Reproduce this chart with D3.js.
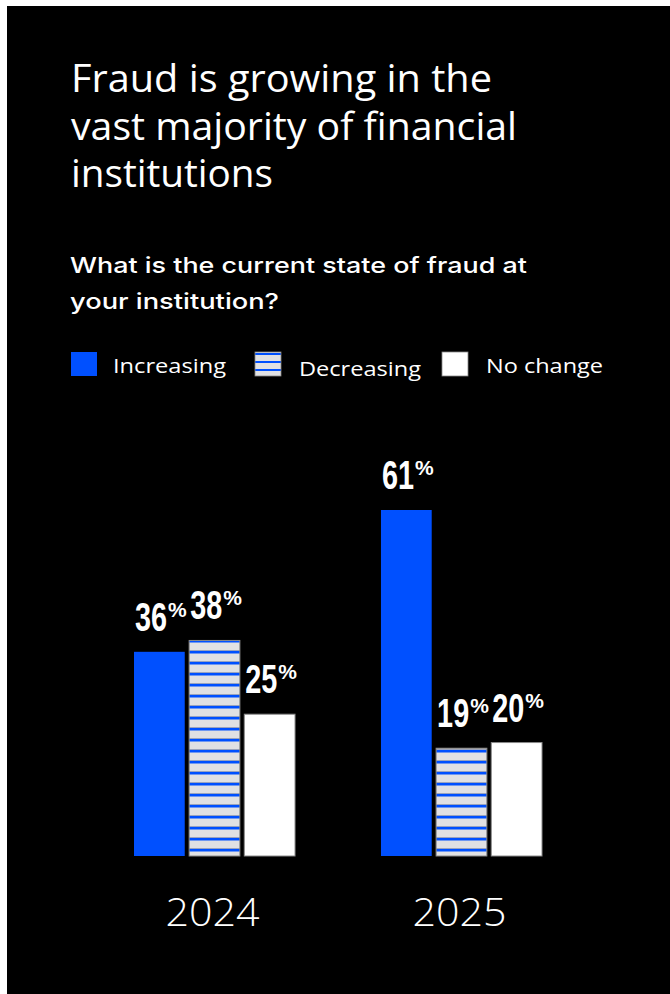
<!DOCTYPE html>
<html>
<head>
<meta charset="utf-8">
<script src="https://cdn.jsdelivr.net/npm/d3@7/dist/d3.min.js"></script>
<style>
  html, body { margin: 0; padding: 0; background: #fff; }
  svg { display: block; }
</style>
</head>
<body>
<svg id="chart" width="670" height="994"></svg>
<script>
// ---- data ----
const years = ["2024", "2025"];
const seriesNames = ["Increasing", "Decreasing", "No change"];
const increasing = [36, 61];
const decreasing = [38, 19];
const noChange = [25, 20];
const titleLines = ["Fraud is growing in the", "vast majority of financial", "institutions"];
const subtitleLines = ["What is the current state of fraud at", "your institution?"];

const seriesValues = [increasing, decreasing, noChange];
const rows = years.map((y, i) => ({
  year: y,
  values: seriesNames.map((s, j) => ({ key: s, value: seriesValues[j][i] }))
}));

const BLUE = "#0050ff";
const SANS = "'Open Sans', 'Noto Sans', sans-serif";
const svg = d3.select("#chart");

// panel background
svg.append("rect").attr("x", 7).attr("y", 6).attr("width", 663).attr("height", 988).attr("fill", "#000");

// striped fill for "Decreasing"
const defs = svg.append("defs");
const pat = defs.append("pattern").attr("id", "stripes").attr("patternUnits", "userSpaceOnUse")
  .attr("width", 8).attr("height", 11).attr("y", 638);
pat.append("rect").attr("width", 8).attr("height", 11).attr("fill", "#e1e1e3");
pat.append("rect").attr("y", 1).attr("width", 8).attr("height", 1).attr("fill", "#9aa3bd");
pat.append("rect").attr("y", 2).attr("width", 8).attr("height", 2.5).attr("fill", BLUE);
const patL = defs.append("pattern").attr("id", "stripesLegend").attr("patternUnits", "userSpaceOnUse")
  .attr("width", 8).attr("height", 8).attr("y", 353);
patL.append("rect").attr("width", 8).attr("height", 8).attr("fill", "#e1e1e3");
patL.append("rect").attr("y", 0).attr("width", 8).attr("height", 2).attr("fill", BLUE);

const fillFor = k => k === "Increasing" ? BLUE : k === "Decreasing" ? "url(#stripes)" : "#fff";

// stretch or squeeze a text element to a given width
function fit(sel, w) {
  sel.attr("textLength", w).attr("lengthAdjust", "spacingAndGlyphs");
}

// ---- title ----
const titleW = [421, 446, 202];
titleLines.forEach((t, i) => {
  svg.append("text").attr("x", 71).attr("y", 92 + i * 47.5)
    .attr("font-family", SANS).attr("font-size", 38).attr("font-weight", 400)
    .attr("fill", "#fff").text(t).call(fit, titleW[i]);
});

// ---- subtitle ----
const subW = [457, 209];
subtitleLines.forEach((t, i) => {
  svg.append("text").attr("x", 70).attr("y", 273 + i * 36)
    .attr("font-family", "Inter, 'Open Sans', sans-serif").attr("font-size", 22).attr("font-weight", 500)
    .attr("fill", "#fff").text(t).call(fit, subW[i]);
});

// ---- legend ----
const legendItems = [
  { key: "Increasing", sx: 71, tx: 113, tw: 113, fill: BLUE },
  { key: "Decreasing", sx: 255, tx: 299, tw: 122, fill: "url(#stripesLegend)" },
  { key: "No change", sx: 442, tx: 486, tw: 117, fill: "#fff" }
];
const lg = svg.append("g");
lg.selectAll("rect").data(legendItems).join("rect")
  .attr("x", d => d.sx).attr("y", 352).attr("width", 26).attr("height", 24)
  .attr("fill", d => d.fill)
  .attr("stroke", d => d.key === "Increasing" ? "none" : "#888").attr("stroke-width", 0.8);
lg.selectAll("text").data(legendItems).join("text")
  .attr("x", d => d.tx).attr("y", d => d.key === "Decreasing" ? 376 : 373)
  .attr("font-family", SANS).attr("font-size", 20)
  .attr("fill", "#fff").text(d => d.key)
  .each(function (d) { d3.select(this).call(fit, d.tw); });

// ---- scales ----
const x0 = d3.scaleBand().domain(years).range([134, 542]).paddingInner(0.348).paddingOuter(0);
const x1 = d3.scaleBand().domain(seriesNames).range([0, x0.bandwidth()]).paddingInner(0.08);
const y = d3.scaleLinear().domain([0, 61]).range([856, 510]);

// ---- bars ----
const groups = svg.append("g").selectAll("g").data(rows).join("g")
  .attr("transform", d => `translate(${x0(d.year)},0)`);

groups.selectAll("rect").data(d => d.values).join("rect")
  .attr("x", d => x1(d.key)).attr("width", x1.bandwidth())
  .attr("y", d => y(d.value)).attr("height", d => y(0) - y(d.value))
  .attr("fill", d => fillFor(d.key))
  .attr("stroke", d => d.key === "Increasing" ? "none" : "#8a8a8a").attr("stroke-width", 1);

// value labels: tall condensed number followed by a small raised percent sign
const NUM_SCALE = 0.72;
const labels = groups.selectAll("g.val").data(d => d.values).join("g").attr("class", "val")
  .attr("transform", d => `translate(${x1(d.key) + 1},${y(d.value) - 21})`);
labels.append("text")
  .attr("transform", `scale(${NUM_SCALE},1)`)
  .attr("font-family", "'Liberation Sans', Arial, sans-serif").attr("font-weight", 700)
  .attr("font-size", 40).attr("fill", "#fff")
  .text(d => d.value);
labels.append("text")
  .attr("x", function () {
    const num = this.parentNode.querySelector("text");
    return num.getComputedTextLength() * NUM_SCALE + 1;
  })
  .attr("y", -14)
  .attr("font-family", "'Liberation Sans', Arial, sans-serif").attr("font-weight", 700)
  .attr("font-size", 21).attr("fill", "#fff")
  .text("%");

// year axis labels
svg.append("g").selectAll("text").data(years).join("text")
  .attr("x", d => x0(d) + x0.bandwidth() / 2 - 2).attr("y", 926)
  .attr("text-anchor", "middle")
  .attr("font-family", SANS).attr("font-size", 39).attr("font-weight", 300)
  .attr("fill", "#fff").text(d => d)
  .each(function () { d3.select(this).call(fit, 94); });
</script>
</body>
</html>
